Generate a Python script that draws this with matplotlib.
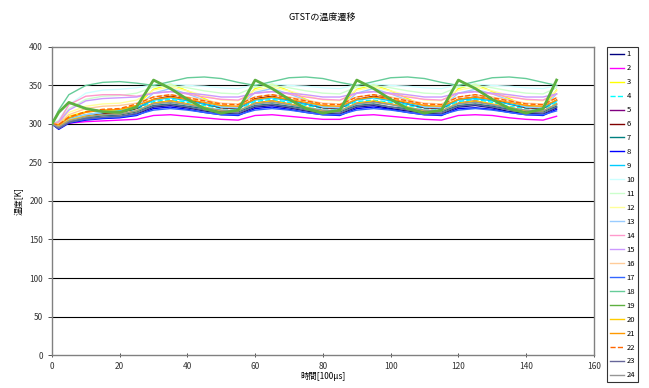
import matplotlib
matplotlib.use('Agg')
import matplotlib.pyplot as plt

plt.rcParams['font.family'] = ['Noto Sans CJK JP', 'DejaVu Sans']

# time axis [100us]
x = [0, 2, 5, 10, 15, 20, 25, 30, 35, 40, 45, 50, 55, 60, 65, 70, 75, 80, 85,
     90, 95, 100, 105, 110, 115, 120, 125, 130, 135, 140, 145, 149]

s1 = [300, 294, 302, 306, 308, 309, 313, 322, 324, 321, 317, 314, 313, 322, 324, 321, 317, 314, 313,
      322, 324, 320, 317, 314, 313, 322, 324, 321, 316, 314, 313, 321]
s2 = [300, 298, 301, 303, 304, 305, 306, 311, 312, 310, 308, 306, 305, 311, 312, 310, 308, 306, 306,
      311, 312, 310, 308, 306, 305, 311, 312, 311, 308, 306, 305, 310]
s3 = [300, 302, 310, 316, 318, 318, 324, 345, 352, 343, 333, 323, 321, 346, 352, 343, 332, 323, 321,
      345, 351, 343, 333, 323, 321, 346, 352, 342, 333, 323, 321, 344]
s4 = [300, 297, 305, 310, 313, 315, 319, 329, 332, 328, 324, 320, 319, 329, 332, 328, 324, 320, 319,
      329, 331, 328, 324, 320, 319, 329, 332, 328, 323, 320, 319, 328]
s5 = [300, 295, 303, 308, 311, 312, 316, 327, 330, 326, 321, 316, 316, 327, 330, 326, 321, 317, 316,
      327, 329, 326, 321, 316, 316, 327, 330, 325, 321, 316, 316, 326]
s6 = [300, 296, 304, 310, 313, 315, 320, 332, 336, 332, 326, 321, 320, 333, 336, 331, 326, 321, 320,
      332, 336, 332, 326, 321, 320, 332, 335, 332, 326, 321, 320, 331]
s7 = [300, 295, 303, 308, 311, 312, 316, 324, 326, 323, 320, 317, 316, 324, 326, 323, 320, 317, 316,
      324, 326, 322, 320, 317, 316, 324, 326, 323, 319, 317, 316, 323]
s8 = [300, 293, 301, 305, 307, 308, 311, 320, 322, 319, 315, 312, 311, 320, 322, 319, 315, 312, 311,
      320, 322, 319, 315, 312, 311, 320, 321, 319, 315, 312, 311, 319]
s9 = [300, 299, 307, 312, 315, 317, 321, 331, 334, 330, 326, 322, 321, 331, 334, 330, 326, 322, 321,
      331, 334, 330, 326, 322, 321, 331, 333, 330, 326, 322, 321, 330]
s10 = [300, 305, 325, 340, 344, 345, 347, 351, 352, 350, 349, 347, 346, 351, 352, 350, 349, 347, 346,
       351, 352, 350, 349, 347, 346, 351, 352, 350, 349, 347, 346, 350]
s11 = [300, 304, 320, 332, 336, 337, 340, 348, 350, 347, 343, 340, 339, 348, 350, 347, 343, 340, 339,
       348, 350, 347, 343, 340, 339, 348, 350, 347, 343, 340, 339, 347]
s12 = [300, 303, 315, 323, 326, 327, 331, 344, 348, 343, 337, 331, 330, 344, 348, 343, 337, 331, 330,
       344, 348, 343, 337, 331, 330, 344, 348, 343, 337, 331, 330, 343]
s13 = [300, 298, 306, 312, 315, 316, 322, 340, 346, 339, 331, 322, 321, 341, 346, 339, 331, 322, 321,
       340, 346, 339, 331, 322, 321, 340, 345, 339, 331, 322, 321, 339]
s14 = [300, 303, 325, 336, 338, 338, 336, 340, 342, 339, 335, 332, 331, 340, 342, 339, 335, 332, 331,
       340, 342, 339, 335, 332, 331, 340, 342, 339, 335, 332, 331, 339]
s15 = [300, 302, 318, 330, 333, 334, 335, 340, 342, 340, 338, 335, 335, 340, 342, 340, 338, 335, 335,
       340, 342, 340, 338, 335, 335, 340, 342, 340, 338, 335, 335, 339]
s16 = [300, 301, 312, 320, 323, 324, 327, 335, 338, 335, 331, 327, 326, 335, 338, 335, 331, 327, 326,
       335, 338, 335, 331, 327, 326, 335, 338, 335, 331, 327, 326, 334]
s17 = [300, 294, 302, 306, 308, 309, 312, 318, 320, 318, 315, 312, 312, 318, 320, 318, 315, 312, 312,
       318, 320, 318, 315, 312, 312, 318, 320, 318, 315, 312, 312, 317]
s18 = [300, 318, 338, 350, 354, 355, 353, 350, 355, 360, 361, 359, 354, 350, 355, 360, 361, 359, 354,
       350, 355, 360, 361, 359, 354, 350, 355, 360, 361, 359, 354, 350]
s19 = [300, 315, 328, 320, 316, 315, 322, 357, 346, 332, 320, 314, 318, 357, 346, 332, 320, 314, 318,
       357, 346, 332, 320, 314, 318, 357, 346, 332, 320, 314, 320, 357]
s20 = [300, 297, 305, 310, 312, 313, 317, 327, 330, 326, 322, 317, 317, 327, 330, 326, 322, 317, 317,
       327, 330, 326, 322, 317, 317, 327, 330, 326, 322, 317, 317, 326]
s21 = [300, 299, 308, 315, 318, 319, 324, 332, 335, 332, 328, 324, 323, 332, 335, 332, 328, 324, 323,
       332, 335, 332, 328, 324, 323, 332, 335, 332, 328, 324, 323, 331]
s22 = [300, 299, 309, 316, 319, 320, 326, 335, 338, 334, 330, 326, 325, 335, 338, 334, 330, 326, 325,
       335, 338, 334, 330, 326, 325, 335, 338, 334, 330, 326, 325, 334]
s23 = [300, 294, 302, 307, 309, 310, 314, 323, 325, 322, 318, 315, 314, 323, 325, 322, 318, 315, 314,
       323, 325, 322, 318, 315, 314, 323, 325, 322, 318, 315, 314, 322]
s24 = [300, 296, 304, 309, 312, 313, 317, 326, 328, 325, 321, 318, 317, 326, 328, 325, 321, 318, 317,
       326, 328, 325, 321, 318, 317, 326, 328, 325, 321, 318, 317, 325]

series = [s1, s2, s3, s4, s5, s6, s7, s8, s9, s10, s11, s12,
          s13, s14, s15, s16, s17, s18, s19, s20, s21, s22, s23, s24]
labels = [str(i) for i in range(1, 25)]

# excel default line colours
colors = ['#000080', '#FF00FF', '#FFFF00', '#00FFFF', '#800080', '#800000',
          '#008080', '#0000FF', '#00CCFF', '#CCFFFF', '#CCFFCC', '#FFFF99',
          '#99CCFF', '#FF99CC', '#CC99FF', '#FFCC99', '#3366FF', '#66CC99',
          '#5DB040', '#FFCC00', '#FF9900', '#FF6600', '#666699', '#969696']
styles = ['-', '-', '-', '--', '-', '-', '-', '-', '-', '-', '-', '-',
          '-', '-', '-', '-', '-', '-', '-', '-', '-', '--', '-', '-']

fig = plt.figure(figsize=(6.49, 3.88), dpi=100)
ax = fig.add_axes([0.080, 0.085, 0.835, 0.794])

for i, s in enumerate(series):
    lw = 2.0 if i == 18 else 1.0
    ax.plot(x, s, color=colors[i], linestyle=styles[i], linewidth=lw,
            label=labels[i], zorder=3 + (1 if i == 18 else 0))

ax.set_xlim(0, 160)
ax.set_ylim(0, 400)
ax.set_xticks(range(0, 161, 20))
ax.set_yticks(range(0, 401, 50))
ax.tick_params(labelsize=6, length=3, width=0.6, colors='#333333')
ax.tick_params(axis='x', direction='inout')

for yv in range(50, 400, 50):
    ax.axhline(yv, color='black', linewidth=0.8, zorder=1)

for sp in ax.spines.values():
    sp.set_color('#808080')
    sp.set_linewidth(1.0)

ax.set_xlabel('時間[100μs]', fontsize=6, labelpad=1)
ax.set_ylabel('温度[K]', fontsize=6, labelpad=4)
fig.text(0.497, 0.955, 'GTSTの温度遷移', fontsize=6.5, ha='center', va='center')

leg = fig.legend(loc='upper left', bbox_to_anchor=(0.935, 0.878), fontsize=5.5,
                 handlelength=1.8, labelspacing=0.78, borderpad=0.4,
                 handletextpad=0.4, fancybox=False, edgecolor='black',
                 borderaxespad=0)
leg.get_frame().set_linewidth(0.8)
for h in leg.get_lines():
    h.set_linewidth(1.0)

plt.savefig('out.png', dpi=100)
